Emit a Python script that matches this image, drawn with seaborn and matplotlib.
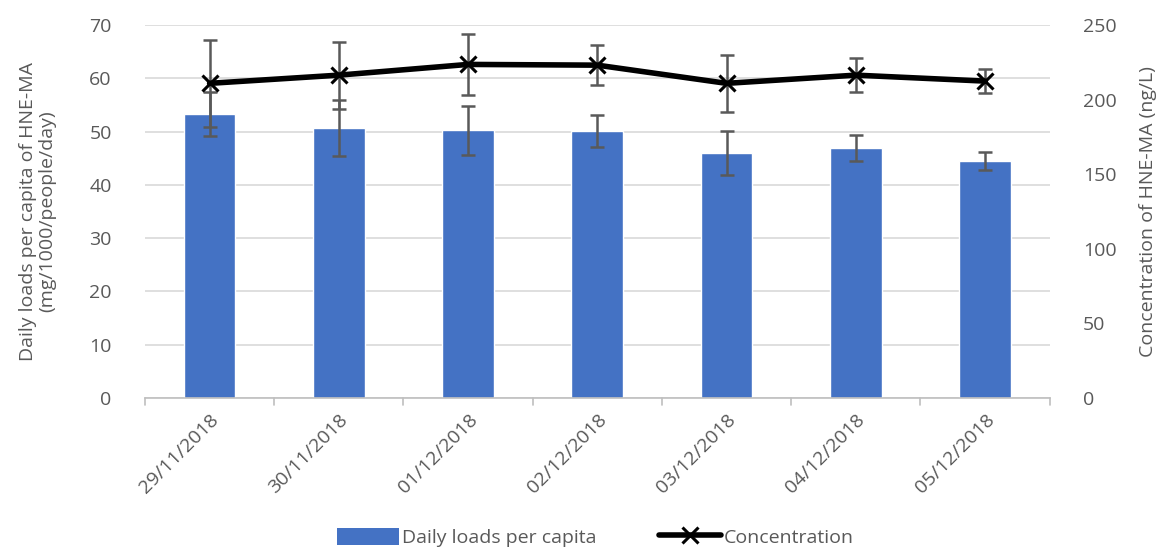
import numpy as np
import pandas as pd
import matplotlib
matplotlib.use("Agg")
import matplotlib.pyplot as plt
import seaborn as sns
from matplotlib.lines import Line2D
from matplotlib.patches import Patch

# Sampling dates
dates = ["29/11/2018", "30/11/2018", "01/12/2018", "02/12/2018",
         "03/12/2018", "04/12/2018", "05/12/2018"]
# Daily loads per capita (mg/1000/people/day) and their standard deviations
loads = [53.3, 50.7, 50.3, 50.2, 46.0, 46.9, 44.5]
loads_sd = [4.1, 5.2, 4.6, 3.0, 4.2, 2.5, 1.7]
# Concentration of HNE-MA (ng/L) and standard deviations
conc = [211.0, 216.5, 223.7, 223.2, 211.0, 216.5, 212.5]
conc_sd = [29.0, 22.5, 20.5, 13.5, 19.0, 11.5, 8.0]

left_ticks = [0, 10, 20, 30, 40, 50, 60, 70]
right_ticks = [0, 50, 100, 150, 200, 250]

sns.set_theme(style="white")
plt.rcParams["font.family"] = ["Open Sans", "DejaVu Sans"]

bar_color = "#4472C4"
text_color = "#595959"
err_color = "#595959"
fs = 14

df = pd.DataFrame({"date": dates, "load": loads, "conc": conc})

fig = plt.figure(figsize=(11.56, 5.48), dpi=100)
ax = fig.add_axes([0.1254, 0.274, 0.7826, 0.680])

sns.barplot(data=df, x="date", y="load", color=bar_color, saturation=1,
            width=0.4, ax=ax, zorder=2)
x = np.arange(len(dates))
ax.errorbar(x, loads, yerr=loads_sd, fmt="none", ecolor=err_color,
            elinewidth=1.8, capsize=5, capthick=1.8, zorder=3)

ax.set_ylim(0, 70)
ax.set_yticks(left_ticks)
ax.set_xlim(-0.5, len(dates) - 0.5)
ax.grid(axis="y", color="#d9d9d9", linewidth=1.2, zorder=0)
ax.set_axisbelow(True)
for side in ["left", "right", "top"]:
    ax.spines[side].set_visible(False)
ax.spines["bottom"].set_color("#bfbfbf")
ax.spines["bottom"].set_linewidth(1.2)

ax.set_xlabel("")
ax.set_ylabel("Daily loads per capita of HNE-MA\n(mg/1000/people/day)",
              fontsize=fs, color=text_color, labelpad=24, linespacing=1.05)
ax.tick_params(axis="y", labelsize=fs, labelcolor=text_color, length=0, pad=24)
ax.set_xticks(x)
ax.set_xticklabels(dates, rotation=45, ha="right", rotation_mode="anchor",
                   fontsize=fs, color=text_color)
ax.tick_params(axis="x", length=0, pad=9)
# category boundary ticks on the x axis
for b in np.arange(-0.5, len(dates), 1.0):
    ax.plot([b, b], [0, -1.3], color="#bfbfbf", lw=1.2, clip_on=False, zorder=1)

ax2 = ax.twinx()
ax2.errorbar(x, conc, yerr=conc_sd, fmt="none", ecolor=err_color,
             elinewidth=1.8, capsize=5, capthick=1.8, zorder=2)
sns.lineplot(x=x, y=conc, color="black", linewidth=4, marker="x",
             markersize=12, markeredgewidth=2.2, markeredgecolor="black",
             ax=ax2, zorder=3)
ax2.set_ylim(0, 250)
ax2.set_yticks(right_ticks)
ax2.set_xlim(-0.5, len(dates) - 0.5)
for side in ["left", "right", "top", "bottom"]:
    ax2.spines[side].set_visible(False)
ax2.tick_params(axis="y", labelsize=fs, labelcolor=text_color, length=0, pad=24)
ax2.set_ylabel("Concentration of HNE-MA (ng/L)", fontsize=fs,
               color=text_color, labelpad=16)
ax2.grid(False)

handles = [Patch(facecolor=bar_color, edgecolor="none"),
           Line2D([0], [0], color="black", lw=4, marker="x", markersize=12,
                  markeredgewidth=2.2)]
fig.legend(handles, ["Daily loads per capita", "Concentration"],
           loc="lower center", bbox_to_anchor=(0.515, -0.03), ncol=2,
           frameon=False, fontsize=fs, labelcolor=text_color,
           handlelength=3.2, handleheight=1.0, handletextpad=0.15,
           columnspacing=3.2)

fig.savefig("out.png", dpi=100)
